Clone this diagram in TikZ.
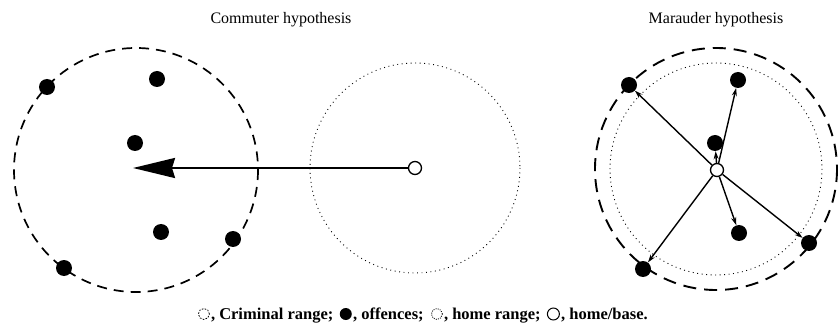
\documentclass[tikz,border=0pt]{standalone}
\usepackage{fontspec}
\setmainfont{Liberation Serif}
\usetikzlibrary{arrows.meta}
\begin{document}
\begin{tikzpicture}[x=1pt,y=-1pt,
 offence/.style={circle,fill=black,inner sep=0pt,minimum size=16pt},
 homebase/.style={circle,draw=black,fill=white,line width=1.3pt,inner sep=0pt,minimum size=13pt},
 crimrange/.style={draw=black,line width=1.7pt,dash pattern=on 10pt off 7pt},
 crimrangewide/.style={draw=black,line width=1.9pt,dash pattern=on 13pt off 8pt},
 homerange/.style={draw=black,line width=0.9pt,dash pattern=on 0.9pt off 3.6pt},
 ray/.style={line width=1.4pt,-{Stealth[length=8pt,width=5pt]}},
 titletext/.style={font=\fontsize{16}{19}\selectfont,anchor=base,inner sep=0pt},
 captext/.style={font=\bfseries\fontsize{16.5}{19}\selectfont,anchor=base west,inner sep=0pt},
 symcrim/.style={circle,draw=black,line width=0.8pt,dash pattern=on 1.6pt off 1.4pt,inner sep=0pt,minimum size=11pt,anchor=west},
 symdot/.style={circle,fill=black,inner sep=0pt,minimum size=12pt,anchor=west},
 symhome/.style={circle,draw=black,line width=0.9pt,dash pattern=on 0.9pt off 1.3pt,inner sep=0pt,minimum size=11pt,anchor=west},
 symbase/.style={circle,draw=black,line width=1pt,inner sep=0pt,minimum size=12pt,anchor=west}]
\useasboundingbox (0,0) rectangle (838,323);

% titles
\node[titletext] (t1) at (281,24) {Commuter hypothesis};
\node[titletext] (t2) at (716,24) {Marauder hypothesis};

% commuter
\draw[crimrange] (136,170) circle[radius=122];
\draw[homerange] (415,168) circle[radius=105];
\node[offence] (c1) at (47,87) {};
\node[offence] (c2) at (157,79) {};
\node[offence] (c3) at (135,143) {};
\node[offence] (c4) at (161,232) {};
\node[offence] (c5) at (233,239) {};
\node[offence] (c6) at (64,268) {};
\node[homebase] (h1) at (415,168) {};
\coordinate (tip) at (133,168);
\draw[line width=2.2pt,-{Stealth[length=42pt,width=20pt,inset=3pt]}] (h1) -- (tip);

% marauder
\draw[crimrangewide] (716,169) circle[radius=121];
\draw[homerange] (716,169) circle[radius=106];
\node[offence] (m1) at (629,85) {};
\node[offence] (m2) at (738,80) {};
\node[offence] (m3) at (715,143) {};
\node[offence] (m4) at (739,233) {};
\node[offence] (m5) at (809,243) {};
\node[offence] (m6) at (643,269) {};
\node[homebase] (h2) at (717,170) {};
\foreach \m in {m1,m2,m3,m4,m5,m6} \draw[ray] (h2) -- (\m);

% caption
\node[symcrim] (s1) at (198,314) {};
\path (s1.east) ++(1,5) node[captext] (k1) {, Criminal range;};
\path (k1.base east) ++(6,-5) node[symdot] (s2) {};
\path (s2.east) ++(1,5) node[captext] (k2) {, offences;};
\path (k2.base east) ++(7,-5) node[symhome] (s3) {};
\path (s3.east) ++(1,5) node[captext] (k3) {, home range;};
\path (k3.base east) ++(6,-5) node[symbase] (s4) {};
\path (s4.east) ++(1,5) node[captext] (k4) {, home/base.};
\end{tikzpicture}
\end{document}
